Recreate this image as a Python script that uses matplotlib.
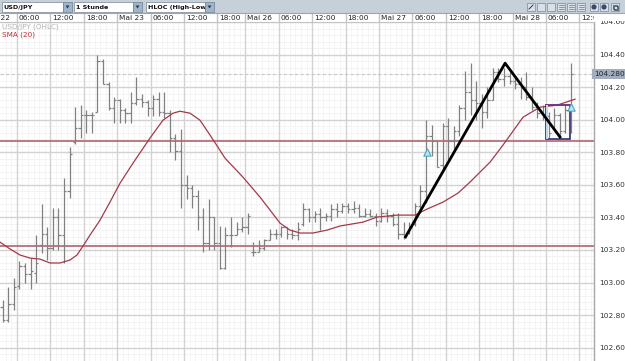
import numpy as np
import matplotlib
matplotlib.use("Agg")
import matplotlib.pyplot as plt
from matplotlib.patches import Rectangle, Polygon
from matplotlib.transforms import Bbox, TransformedBbox

# USD/JPY, 1 Stunde, HLOC bars
bar_open = [102.85, 102.77, 102.87, 102.98, 103.10, 103.05, 103.06, 103.23, 103.30, 103.21,
            103.40, 103.29, 103.56, 103.86, 103.95, 104.03, 104.03, 104.05, 104.36, 104.22,
            104.07, 104.12, 104.06, 104.04, 104.10, 104.13, 104.11, 104.07, 104.13, 104.05,
            104.04, 103.89, 103.81, 103.60, 103.58, 103.53, 103.40, 103.24, 103.40, 103.24,
            103.09, 103.29, 103.29, 103.33, 103.34, 103.19, 103.19, 103.21, 103.26, 103.30,
            103.30, 103.34, 103.30, 103.29, 103.36, 103.45, 103.40, 103.42, 103.40, 103.41,
            103.45, 103.44, 103.47, 103.45, 103.46, 103.41, 103.42, 103.41, 103.38, 103.43,
            103.41, 103.36, 103.30, 103.31, 103.36, 103.47, 103.56, 103.90, 103.87, 103.72,
            103.96, 103.87, 103.93, 104.07, 104.17, 104.12, 104.10, 104.05, 104.12, 104.29,
            104.25, 104.27, 104.24, 104.22, 104.20, 104.14, 104.08, 104.04, 104.02, 103.95,
            104.03, 103.93, 104.06]
bar_high = [102.89, 102.97, 103.03, 103.13, 103.12, 103.15, 103.29, 103.48, 103.34, 103.46,
            103.46, 103.64, 103.83, 104.08, 104.09, 104.06, 104.05, 104.40, 104.37, 104.23,
            104.14, 104.13, 104.07, 104.17, 104.26, 104.16, 104.12, 104.15, 104.17, 104.17,
            104.06, 103.91, 103.94, 103.66, 103.60, 103.57, 103.46, 103.51, 103.40, 103.35,
            103.34, 103.40, 103.37, 103.40, 103.43, 103.25, 103.26, 103.27, 103.33, 103.33,
            103.35, 103.34, 103.33, 103.37, 103.49, 103.46, 103.44, 103.46, 103.43, 103.48,
            103.49, 103.49, 103.49, 103.50, 103.48, 103.46, 103.45, 103.43, 103.46, 103.45,
            103.43, 103.43, 103.37, 103.37, 103.49, 103.60, 104.00, 103.97, 103.87, 103.98,
            104.01, 103.96, 104.09, 104.30, 104.35, 104.24, 104.16, 104.20, 104.32, 104.32,
            104.32, 104.29, 104.27, 104.26, 104.29, 104.20, 104.11, 104.09, 104.05, 104.07,
            104.04, 104.09, 104.35]
bar_low = [102.76, 102.76, 102.83, 102.96, 103.00, 102.96, 103.00, 103.18, 103.14, 103.20,
           103.20, 103.12, 103.52, 103.85, 103.89, 103.92, 103.92, 104.05, 104.22, 104.06,
           103.98, 103.98, 103.98, 103.98, 104.09, 104.08, 104.02, 104.02, 104.02, 104.01,
           103.80, 103.75, 103.46, 103.51, 103.46, 103.32, 103.19, 103.20, 103.20, 103.08,
           103.08, 103.22, 103.29, 103.31, 103.30, 103.16, 103.19, 103.20, 103.26, 103.27,
           103.28, 103.27, 103.27, 103.26, 103.35, 103.37, 103.37, 103.32, 103.38, 103.38,
           103.40, 103.43, 103.43, 103.43, 103.40, 103.40, 103.40, 103.35, 103.37, 103.37,
           103.35, 103.27, 103.27, 103.30, 103.35, 103.43, 103.49, 103.78, 103.71, 103.70,
           103.75, 103.82, 103.90, 104.00, 104.03, 104.00, 103.95, 104.01, 104.12, 104.23,
           104.21, 104.22, 104.19, 104.13, 104.12, 104.06, 104.01, 104.00, 103.89, 103.94,
           103.89, 103.92, 103.92]
bar_close = [102.77, 102.87, 102.97, 103.10, 103.05, 103.07, 103.12, 103.30, 103.21, 103.40,
             103.29, 103.56, 103.79, 103.95, 104.03, 104.03, 104.03, 104.36, 104.22, 104.07,
             104.12, 104.06, 104.04, 104.10, 104.13, 104.11, 104.07, 104.13, 104.05, 104.04,
             103.89, 103.81, 103.60, 103.58, 103.53, 103.40, 103.24, 103.40, 103.24, 103.09,
             103.29, 103.29, 103.33, 103.34, 103.41, 103.19, 103.21, 103.26, 103.30, 103.30,
             103.34, 103.30, 103.29, 103.33, 103.45, 103.40, 103.42, 103.40, 103.41, 103.45,
             103.44, 103.47, 103.45, 103.46, 103.41, 103.42, 103.41, 103.38, 103.43, 103.41,
             103.36, 103.30, 103.28, 103.34, 103.47, 103.56, 103.90, 103.87, 103.71, 103.96,
             103.87, 103.93, 104.07, 104.17, 104.12, 104.10, 104.05, 104.12, 104.29, 104.25,
             104.27, 104.24, 104.22, 104.20, 104.14, 104.08, 104.04, 104.02, 103.92, 104.03,
             103.93, 104.06, 104.28]

# SMA (20): (bar index, price)
sma_idx = [-0.48, 1.31, 3.11, 4.90, 6.70, 8.49, 10.29, 12.08, 13.34, 14.42, 15.67, 17.47,
           19.26, 21.06, 23.39, 26.44, 28.78, 30.57, 31.83, 33.63, 35.42, 37.58, 39.91,
           43.14, 46.19, 47.99, 49.78, 51.58, 53.38, 55.71, 58.22, 60.56, 64.69, 67.20,
           70.79, 74.02, 76.18, 79.05, 81.74, 83.90, 87.49, 89.82, 93.41, 96.46, 99.51, 102.75]
sma_val = [103.248, 103.206, 103.169, 103.150, 103.144, 103.120, 103.120, 103.138, 103.169,
           103.224, 103.291, 103.383, 103.494, 103.610, 103.733, 103.887, 103.997, 104.040,
           104.052, 104.040, 103.997, 103.887, 103.764, 103.647, 103.525, 103.445, 103.365,
           103.322, 103.304, 103.304, 103.322, 103.347, 103.371, 103.402, 103.414, 103.414,
           103.451, 103.494, 103.549, 103.617, 103.739, 103.844, 104.015, 104.077, 104.089,
           104.126]

# drawings on the chart
hlines = [103.868, 103.224]
trend_idx = [72.2, 90.2, 100.2]
trend_px = [103.273, 104.347, 103.887]
box_idx = (97.5, 101.85)
box_px = (103.880, 104.089)
marker_idx = [76.2, 102.1]
marker_px = [103.80, 104.077]

# time axis
tick_hours = [-4, 2, 8, 14, 20, 26, 32, 38, 43, 49, 55, 61, 67, 73, 79, 85, 91, 97, 103]
tick_labels = ["Mai 22", "06:00", "12:00", "18:00", "Mai 23", "06:00", "12:00", "18:00",
               "Mai 26", "06:00", "12:00", "18:00", "Mai 27", "06:00", "12:00", "18:00",
               "Mai 28", "06:00", "12:00"]
price_ticks = [102.6, 102.8, 103.0, 103.2, 103.4, 103.6, 103.8, 104.0, 104.2, 104.4, 104.6]

W, H = 625, 361
fig = plt.figure(figsize=(W / 100, H / 100), dpi=100)
fig.patch.set_facecolor("white")

XL = (-0.485, 106.16)
YL = (102.518, 104.598)
ax = fig.add_axes([0, 0, 594 / W, (H - 22) / H])
ax.set_xlim(*XL)
ax.set_ylim(*YL)
ax.set_facecolor("white")

# grid
for p in np.arange(102.52, 104.6, 0.04):
    ax.axhline(p, color="#efefef", lw=0.5, zorder=0)
for h in np.arange(0, 107, 1):
    ax.axvline(h + 0.55, color="#f2f2f2", lw=0.5, zorder=0)
for p in price_ticks:
    ax.axhline(p, color="#d2d2d2", lw=1.0, zorder=1)
for t in tick_hours:
    ax.axvline(t + 0.55, color="#d2d2d2", lw=1.0, zorder=1)

# current price line
last = bar_close[-1]
ax.axhline(last, color="#c8c8d0", lw=0.8, ls=(0, (3, 2)), zorder=1)

# horizontal lines
for p in hlines:
    ax.axhline(p, color="#b4707c", lw=1.3, zorder=2)

# HLOC bars
xs = np.arange(len(bar_open))
ax.vlines(xs, bar_low, bar_high, color="#808080", lw=0.9, zorder=3)
ax.hlines(bar_open, xs - 0.42, xs, color="#808080", lw=0.9, zorder=3)
ax.hlines(bar_close, xs, xs + 0.42, color="#808080", lw=0.9, zorder=3)

# SMA
ax.plot(sma_idx, sma_val, color="#a33a48", lw=0.9, zorder=4)

# trend lines, box, markers
ax.plot(trend_idx, trend_px, color="black", lw=2.0, zorder=6, solid_capstyle="butt")
ax.add_patch(Rectangle((box_idx[0], box_px[0]), box_idx[1] - box_idx[0], box_px[1] - box_px[0],
                       fill=False, ec="#2e2c6e", lw=1.2, zorder=5))
ax.plot([box_idx[0], box_idx[1]], [box_px[1], box_px[1]], color="#7a3a8a", lw=1.2, zorder=5)
ax.add_patch(Rectangle((box_idx[0], box_px[0]), 0.35, box_px[1] - box_px[0],
                       fc="#b8d8f0", ec="none", zorder=5))
ax.scatter(marker_idx, marker_px, marker="^", s=28, fc="#bfe6ee", ec="#4aa6c2", lw=0.8, zorder=7)

# legend text
ax.text(2 / 594, 1 - 5 / 339, "USD/JPY (OHLC)", transform=ax.transAxes, fontsize=5.2,
        color="#b4b4b4", va="center", ha="left", zorder=8)
ax.text(2 / 594, 1 - 13 / 339, "SMA (20)", transform=ax.transAxes, fontsize=5.2,
        color="#c0303a", va="center", ha="left", zorder=8)

# right price axis
ax.yaxis.tick_right()
ax.set_yticks(price_ticks)
ax.set_yticklabels(["%.2f" % p for p in price_ticks])
ax.tick_params(axis="y", length=0, pad=4, labelsize=5.3, labelcolor="#333333")
ax.set_xticks([])
for s in ["top", "left", "bottom"]:
    ax.spines[s].set_visible(False)
ax.spines["right"].set_color("#a8a8a8")
ax.spines["right"].set_linewidth(1.0)

ax.text(1.0, last, "%.3f" % last, transform=ax.get_yaxis_transform(), fontsize=5.3,
        color="#1c2440", va="center", ha="left", zorder=9, clip_on=False,
        bbox=dict(boxstyle="square,pad=0.25", fc="#a4adbb", ec="none"))

# time row
tx = fig.add_axes([0, (H - 22) / H, 594 / W, 9 / H])
tx.set_xlim(*XL)
tx.set_ylim(0, 1)
tx.set_facecolor("white")
for t, lab in zip(tick_hours, tick_labels):
    tx.axvline(t + 0.55, color="#c4c4c4", lw=1.0)
    tx.text(t + 0.9, 0.45, lab, fontsize=5.3, color="#222222", va="center", ha="left",
            clip_on=True)
tx.set_xticks([])
tx.set_yticks([])
for s in tx.spines.values():
    s.set_visible(False)

# toolbar overlay in pixel units
ov = fig.add_axes([0, 0, 1, 1])
ov.set_xlim(0, W)
ov.set_ylim(H, 0)
ov.axis("off")
ov.patch.set_alpha(0)
ov.add_patch(Rectangle((0, 0), W, 13, fc="#c5d0d8", ec="none"))
ov.add_patch(Rectangle((594, 13), 31, 8, fc="white", ec="none"))
ov.plot([0, W], [13, 13], color="#9aa6b0", lw=0.8)
ov.plot([0, 594], [22, 22], color="#c4c4c4", lw=0.8)

for x0, x1, lab in [(2, 63, "USD/JPY"), (74, 133, "1 Stunde"), (146, 205, "HLOC (High-Low-Op")]:
    ov.add_patch(Rectangle((x0, 2), x1 - x0, 10, fc="white", ec="#8a96a2", lw=0.6))
    ov.add_patch(Rectangle((x1, 2), 9, 10, fc="#9fb6ca", ec="#7a8a9a", lw=0.6))
    ov.add_patch(Polygon([(x1 + 2.5, 5.5), (x1 + 6.5, 5.5), (x1 + 4.5, 8.5)], closed=True,
                         fc="#2a3a5a", ec="none"))
    t = ov.text(x0 + 1.5, 7.2, lab, fontsize=4.6, color="#111111", va="center", ha="left",
                fontweight="semibold", clip_on=True)
    t.set_clip_box(TransformedBbox(Bbox([[x0, 2], [x1 - 0.5, 12]]), ov.transData))

for x0 in [527, 537, 547, 557, 567, 577, 590, 600, 611]:
    ov.add_patch(Rectangle((x0, 3), 8, 8, fc="#d8e0e8", ec="#7a8898", lw=0.5))
ov.plot([529, 533], [9, 5], color="#2a3a5a", lw=0.7)
for x0 in [557, 567, 577]:
    for yy in [5, 7, 9]:
        ov.plot([x0 + 1.5, x0 + 6.5], [yy, yy], color="#4a5a7a", lw=0.4)
for x0 in [590, 600]:
    ov.add_patch(plt.Circle((x0 + 4, 7), 2.6, fc="#3a4a6a", ec="none"))
ov.add_patch(Rectangle((612.5, 4.5), 4, 4, fc="none", ec="#2a3a5a", lw=0.5))
ov.add_patch(Rectangle((614, 6), 4, 4, fc="none", ec="#2a3a5a", lw=0.5))

fig.savefig("out.png", dpi=100)
